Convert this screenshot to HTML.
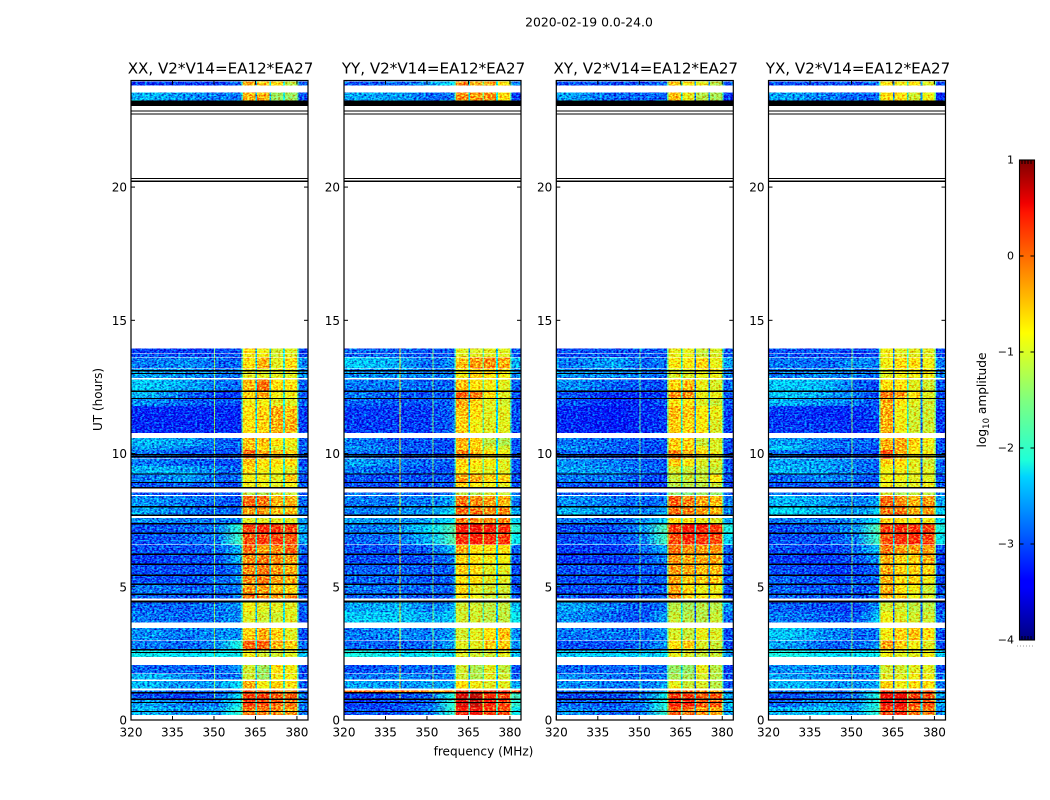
<!DOCTYPE html>
<html>
<head>
<meta charset="utf-8">
<title>2020-02-19 0.0-24.0</title>
<style>
html,body{margin:0;padding:0;background:#fff;width:1050px;height:800px;overflow:hidden}
svg{display:block}
text{font-family:"DejaVu Sans","Liberation Sans",sans-serif;fill:#000}
</style>
</head>
<body>
<svg id="figure" xmlns="http://www.w3.org/2000/svg" width="1050" height="800" viewBox="0 0 1050 800">
  <defs id="gradients">
    <filter id="speckle" color-interpolation-filters="sRGB" filterUnits="userSpaceOnUse" x="0" y="0" width="1050" height="800">
      <feTurbulence type="fractalNoise" baseFrequency="0.42 0.62" numOctaves="2" seed="7" result="raw"/>
      <feColorMatrix in="raw" type="matrix" values="0.5 0 0 0 0.25  0 1.9 0 0 -0.45  0 1.1 0 0 -0.05  0 0 0 0 1" result="noise"/>
      <feComposite in="SourceGraphic" in2="noise" operator="arithmetic" k1="0" k2="1" k3="1" k4="-0.5" result="mixed"/>
      <feComposite in="mixed" in2="SourceAlpha" operator="in"/>
    </filter>
    <linearGradient id="jet-gradient" x1="0" y1="1" x2="0" y2="0">
      <stop offset="0" stop-color="#00007f"/>
      <stop offset="0.11" stop-color="#0000ff"/>
      <stop offset="0.125" stop-color="#0000ff"/>
      <stop offset="0.34" stop-color="#00d4ff"/>
      <stop offset="0.375" stop-color="#1fffd8"/>
      <stop offset="0.5" stop-color="#7fff7f"/>
      <stop offset="0.64" stop-color="#ffff00"/>
      <stop offset="0.65" stop-color="#fff600"/>
      <stop offset="0.89" stop-color="#ff1500"/>
      <stop offset="0.91" stop-color="#f10000"/>
      <stop offset="1" stop-color="#7f0000"/>
    </linearGradient>
  </defs>

  <text x="589" y="26.5" text-anchor="middle" font-size="12.4">2020-02-19 0.0-24.0</text>
  <g id="panels"></g>
  <text x="0" y="0" text-anchor="middle" font-size="12" transform="translate(102,399.5) rotate(-90)">UT (hours)</text>
  <text x="483.5" y="755.5" text-anchor="middle" font-size="12.1">frequency (MHz)</text>

  <g>
    <rect x="1019.5" y="160" width="15" height="480" fill="url(#jet-gradient)"/>
    <g id="colorbar-ticks"></g>
    <rect x="1019.5" y="160" width="15" height="480" fill="none" stroke="#000" stroke-width="1.1"/>
    <line x1="1017" y1="646" x2="1035" y2="646" stroke="#999" stroke-width="1" stroke-dasharray="1 2"/>
    <text x="0" y="0" text-anchor="middle" font-size="12.2" transform="translate(986,400) rotate(-90)">log<tspan font-size="8.5" dy="3">10</tspan><tspan dy="-3"> amplitude</tspan></text>
  </g>
</svg>

<script>
// ---- shared axis values ----
const panelTitles = ["XX, V2*V14=EA12*EA27", "YY, V2*V14=EA12*EA27", "XY, V2*V14=EA12*EA27", "YX, V2*V14=EA12*EA27"];
const freqTicks = [320, 335, 350, 365, 380];
const timeTicks = [0, 5, 10, 15, 20];
const colorTicks = [1, 0, -1, -2, -3, -4];

// ---- time rows holding data (hours): everything else stays white (no data) ----
const rowTop = [23.96,23.55,13.95,13.74,13.61,13.18,12.77,12.34,12.08,11.78,11.29,10.59,10.28,10.13,9.79,9.53,9.26,8.93,8.53,8.40,8.03,7.58,7.39,7.01,6.56,6.24,5.85,5.46,5.10,4.73,4.41,4.05,3.45,2.98,2.66,2.06,1.73,1.47,1.11,1.05,0.79,0.49];
const rowBottom = [23.81,23.25,13.76,13.63,13.20,12.83,12.34,12.08,11.79,11.29,10.78,10.29,10.14,9.81,9.54,9.26,8.94,8.70,8.44,8.03,7.69,7.39,7.01,6.58,6.24,5.85,5.46,5.10,4.73,4.56,4.05,3.65,3.00,2.66,2.36,1.74,1.52,1.18,1.05,0.79,0.49,0.19];

// ---- flagged (black) scans, hours ----
const flagTop = [23.25,22.88,22.77,20.35,20.25,13.13,13.03,12.36,12.09,9.98,9.90,9.26,8.94,8.74,8.03,7.71,7.39,7.03,6.24,5.87,5.46,5.12,4.74,4.48,2.67,2.56,1.05,0.80,0.68,0.34];
const flagBottom = [23.04,22.84,22.74,20.30,20.20,13.09,13.00,12.33,12.07,9.94,9.87,9.23,8.92,8.70,7.99,7.65,7.36,7.00,6.22,5.84,5.43,5.09,4.72,4.41,2.60,2.52,1.01,0.77,0.65,0.31];

// ---- low-band sample frequencies (MHz), drawn as a smooth strip up to 360 MHz ----
const lowSampleFreqs = [327, 341, 351.5, 359];
// ---- bins above 360 MHz and which value feeds each bin ----
const freqEdges = [360,360.5,365,365.6,370,370.6,375,375.6,380,380.5,384];
const binSource = ["e0","c4","g0","c5","g1","c6","g2","c7","e1","c8"];

// ---- log10 amplitude per row: [~327, ~341, ~351, ~359, SPW1, SPW2, SPW3, SPW4, 380-384] ----
const valuesXX = [
[-3.1,-3.1,-3.1,-2.9,-0.5,-0.6,-0.7,-1.2,-2.9],
[-2.5,-2.7,-2.8,-2.8,-0.5,-0.5,-1.4,-1.4,-3.0],
[-3.1,-3.1,-3.1,-3.0,-0.8,-0.9,-1.1,-1.0,-3.0],
[-3.0,-3.0,-3.0,-3.0,-0.9,-0.9,-1.1,-1.0,-3.0],
[-2.8,-2.7,-2.9,-2.9,-0.8,-0.5,-1.0,-0.8,-2.7],
[-2.6,-2.7,-2.8,-2.8,-1.0,-1.0,-1.0,-1.0,-2.7],
[-2.4,-2.6,-2.8,-2.9,-0.6,-0.2,-0.8,-0.8,-2.9],
[-2.5,-2.9,-3.1,-3.1,-0.7,-0.5,-0.9,-0.9,-3.0],
[-2.7,-2.9,-3.0,-3.0,-0.9,-0.9,-1.0,-1.0,-2.9],
[-3.2,-3.2,-3.2,-3.2,-0.8,-0.7,-0.5,-0.6,-3.1],
[-3.2,-3.2,-3.2,-3.2,-0.8,-0.7,-0.5,-0.5,-3.1],
[-2.5,-2.6,-2.9,-2.9,-0.6,-0.6,-0.8,-0.9,-2.9],
[-2.6,-2.8,-2.9,-3.0,-0.6,-0.8,-1.0,-1.0,-2.9],
[-2.8,-3.0,-3.0,-3.0,-0.1,-0.5,-0.6,-0.7,-3.0],
[-2.8,-2.9,-3.0,-3.0,-0.6,-0.8,-0.8,-0.8,-3.0],
[-2.5,-2.6,-2.8,-2.9,-0.8,-0.9,-0.9,-1.0,-2.9],
[-2.8,-2.6,-2.9,-2.9,-0.9,-0.9,-1.0,-0.6,-3.0],
[-3.0,-2.9,-3.0,-3.0,-0.9,-0.9,-1.0,-0.9,-3.0],
[-3.0,-3.0,-3.0,-3.0,-1.2,-1.3,-1.1,-1.1,-3.0],
[-2.7,-2.8,-2.9,-3.0,-0.1,-0.2,-0.5,-0.5,-2.9],
[-2.6,-2.8,-2.9,-2.9,-0.4,-0.4,-0.6,-0.6,-2.8],
[-2.7,-2.8,-2.8,-2.8,-1.0,-1.0,-1.0,-1.0,-2.7],
[-3.0,-2.9,-2.8,-2.0,0.1,0.25,0.15,0.05,-2.6],
[-3.0,-2.9,-2.8,-1.9,0.0,0.1,0.1,0.0,-2.6],
[-3.0,-3.0,-2.9,-2.5,-0.1,-0.4,-0.3,-0.1,-2.9],
[-3.1,-3.0,-3.0,-2.5,-0.3,-0.2,-0.3,-0.4,-3.0],
[-3.0,-3.0,-3.0,-2.8,-0.3,-0.2,-0.4,-0.5,-3.0],
[-3.0,-3.0,-2.9,-2.7,-0.3,-0.2,-0.4,-0.5,-3.0],
[-2.8,-2.9,-2.9,-2.8,-0.4,-0.4,-0.6,-0.7,-3.0],
[-2.9,-3.0,-3.0,-2.8,-0.2,-0.3,-0.4,-0.3,-3.0],
[-2.9,-2.9,-2.8,-2.7,-0.9,-1.0,-1.0,-1.0,-2.9],
[-2.8,-2.9,-2.8,-2.7,-1.0,-1.1,-1.1,-1.0,-3.0],
[-2.7,-2.8,-2.7,-2.7,-0.7,-0.5,-0.7,-1.0,-3.0],
[-2.8,-2.9,-2.7,-2.1,-0.1,-0.1,-0.5,-0.7,-2.9],
[-2.2,-2.3,-2.2,-2.2,-0.9,-1.1,-1.1,-1.0,-2.4],
[-2.9,-2.9,-2.9,-2.7,-1.1,-1.4,-0.8,-0.9,-3.0],
[-2.5,-2.7,-2.9,-2.8,-1.1,-1.4,-0.9,-0.9,-3.0],
[-2.5,-2.7,-2.6,-2.3,-0.5,-0.9,-0.7,-0.8,-2.9],
[-2.8,-2.9,-2.9,-2.7,0.0,-0.1,-0.2,-0.3,-2.9],
[-3.0,-3.1,-2.9,-2.3,0.1,0.1,-0.1,-0.1,-2.8],
[-2.6,-2.8,-2.8,-2.2,0.1,0.0,-0.1,-0.2,-2.8],
[-2.5,-2.7,-2.6,-2.0,-0.2,-0.2,-0.3,-0.4,-2.8]
];
const valuesYY = [
[-3.0,-2.9,-2.6,-2.3,-0.2,-0.4,-0.4,-0.8,-2.8],
[-2.6,-2.6,-2.9,-2.8,-0.3,-0.4,-0.3,-0.8,-3.1],
[-2.9,-2.9,-3.0,-3.0,-1.0,-1.0,-1.0,-1.0,-3.0],
[-2.9,-2.9,-3.0,-3.0,-1.0,-1.0,-1.0,-1.0,-3.0],
[-2.4,-2.6,-2.9,-2.7,-0.6,-0.4,-0.3,-0.5,-2.5],
[-2.7,-2.7,-2.8,-2.8,-0.9,-0.7,-0.8,-0.9,-2.7],
[-2.8,-2.8,-2.9,-2.9,-0.6,-0.8,-0.9,-1.0,-2.9],
[-2.8,-3.0,-3.0,-3.0,-0.1,-0.2,-0.8,-1.0,-3.0],
[-2.9,-3.0,-3.0,-2.9,-0.4,-0.7,-1.0,-1.1,-3.0],
[-3.1,-3.1,-3.1,-2.9,-0.6,-0.8,-1.0,-1.0,-3.0],
[-3.1,-3.1,-3.1,-2.9,-0.7,-0.9,-1.0,-1.0,-3.0],
[-2.8,-3.0,-3.0,-3.0,-0.5,-0.7,-1.2,-1.3,-3.0],
[-2.7,-2.9,-3.0,-3.0,-0.6,-0.7,-1.0,-1.1,-3.0],
[-2.8,-3.0,-3.0,-3.0,-0.3,-0.5,-0.8,-0.9,-3.0],
[-2.6,-2.8,-2.9,-2.9,-0.7,-0.8,-0.9,-1.0,-3.0],
[-2.8,-2.9,-3.0,-3.0,-0.8,-0.9,-1.0,-1.0,-3.0],
[-3.0,-3.0,-3.0,-3.0,-0.4,-0.5,-0.7,-0.7,-3.0],
[-3.0,-3.0,-3.0,-3.0,-0.7,-0.8,-0.9,-1.0,-3.0],
[-2.8,-2.9,-3.0,-2.8,-1.2,-1.3,-1.1,-1.1,-2.8],
[-2.8,-2.8,-2.8,-2.6,-0.2,-0.3,-0.4,-0.5,-2.8],
[-2.8,-2.7,-2.7,-2.3,-0.1,-0.2,-0.3,-0.3,-2.6],
[-2.6,-2.7,-2.6,-2.3,-0.2,-0.3,-0.3,-0.3,-2.3],
[-2.8,-2.7,-2.3,-1.8,0.3,0.4,0.3,0.2,-2.0],
[-2.9,-2.8,-2.5,-1.8,0.2,0.3,0.2,0.1,-2.2],
[-3.0,-3.0,-2.9,-2.5,-0.5,-0.8,-0.8,-0.8,-2.9],
[-3.0,-3.0,-3.0,-2.8,-0.7,-0.8,-0.9,-0.9,-3.0],
[-2.9,-2.9,-3.0,-2.9,-0.7,-0.8,-1.0,-1.0,-3.0],
[-2.9,-2.9,-3.0,-2.9,-0.8,-0.8,-1.0,-1.0,-3.0],
[-2.8,-2.9,-2.9,-2.9,-0.7,-1.0,-1.1,-1.1,-3.0],
[-2.9,-2.9,-3.0,-2.9,-0.8,-0.9,-1.1,-1.1,-3.0],
[-2.6,-2.5,-2.8,-2.6,-1.1,-1.1,-1.2,-1.2,-2.4],
[-2.4,-2.4,-2.6,-2.4,-1.1,-1.1,-1.2,-1.2,-2.2],
[-2.8,-2.7,-2.8,-2.6,-1.1,-1.0,-0.8,-0.6,-2.7],
[-2.9,-2.9,-2.9,-2.6,-1.0,-1.0,-0.7,-0.7,-2.7],
[-2.1,-2.3,-2.2,-2.3,-1.0,-1.1,-1.1,-1.0,-2.5],
[-3.0,-2.9,-2.9,-2.8,-1.1,-1.3,-1.0,-1.2,-3.0],
[-2.8,-2.7,-2.8,-2.8,-1.1,-1.3,-1.0,-1.1,-2.9],
[-2.6,-2.7,-2.6,-2.6,-0.8,-0.9,-1.0,-1.0,-2.6],
[0.0,-0.1,-0.3,-0.2,0.2,0.2,0.2,0.2,0.1],
[-3.1,-3.0,-2.9,-2.1,0.5,0.6,0.2,0.1,-1.9],
[-3.1,-3.0,-2.9,-2.0,0.5,0.6,0.3,0.1,-2.0],
[-3.0,-3.0,-2.8,-2.0,0.3,0.4,0.1,0.0,-2.2]
];
const valuesXY = [
[-3.0,-3.0,-3.0,-2.9,-0.7,-0.9,-1.0,-1.3,-3.0],
[-2.6,-2.9,-2.9,-2.9,-0.6,-1.0,-1.3,-1.4,-3.1],
[-3.0,-3.0,-3.0,-3.0,-1.0,-1.0,-1.2,-1.1,-3.0],
[-3.0,-3.0,-3.0,-3.0,-1.0,-1.0,-1.2,-1.1,-3.0],
[-2.8,-2.6,-2.9,-2.8,-0.9,-0.9,-0.8,-1.0,-2.6],
[-2.7,-2.7,-2.8,-2.9,-1.1,-1.1,-1.0,-1.0,-2.8],
[-2.7,-2.9,-3.0,-3.0,-0.8,-0.6,-1.0,-1.1,-2.9],
[-3.0,-3.2,-3.2,-3.1,-0.4,-0.4,-1.0,-1.0,-3.0],
[-3.0,-3.2,-3.2,-3.0,-0.9,-0.9,-1.1,-1.2,-3.0],
[-3.2,-3.3,-3.2,-3.1,-0.6,-0.7,-0.9,-1.0,-3.1],
[-3.2,-3.3,-3.2,-3.1,-0.7,-0.8,-0.9,-1.1,-3.1],
[-2.8,-2.9,-3.0,-3.0,-0.7,-0.8,-1.2,-1.1,-3.0],
[-2.7,-2.9,-3.0,-3.0,-0.8,-0.8,-1.0,-1.1,-3.0],
[-2.9,-3.0,-3.0,-3.0,-0.3,-0.5,-0.8,-1.0,-3.0],
[-2.7,-2.8,-2.9,-3.0,-0.7,-0.9,-1.1,-1.1,-3.0],
[-2.6,-2.7,-2.9,-2.9,-1.1,-1.2,-1.2,-1.2,-3.0],
[-2.8,-2.8,-3.0,-3.1,-1.2,-1.2,-1.2,-0.9,-3.0],
[-3.0,-3.0,-3.1,-3.1,-1.3,-1.3,-1.3,-1.2,-3.0],
[-2.9,-3.0,-3.0,-3.0,-1.5,-1.6,-1.5,-1.5,-2.9],
[-2.7,-2.8,-2.9,-2.8,-0.1,-0.3,-0.5,-0.6,-2.8],
[-2.5,-2.7,-2.8,-2.6,-0.2,-0.3,-0.5,-0.6,-2.7],
[-2.8,-2.9,-2.7,-2.4,-0.8,-0.9,-1.0,-1.1,-2.6],
[-3.0,-3.0,-2.7,-1.8,0.1,0.3,0.2,0.1,-2.1],
[-3.0,-3.0,-2.8,-1.9,0.0,0.2,0.1,0.0,-2.3],
[-3.1,-3.1,-2.9,-2.6,-0.2,-0.4,-0.4,-0.4,-2.9],
[-3.1,-3.1,-3.0,-2.8,-0.4,-0.5,-0.5,-0.5,-3.0],
[-3.0,-3.0,-3.0,-2.9,-0.4,-0.5,-0.6,-0.6,-3.0],
[-3.0,-3.0,-3.0,-2.9,-0.5,-0.7,-0.7,-0.7,-3.0],
[-3.0,-3.0,-3.0,-2.9,-0.5,-0.8,-1.0,-1.0,-3.0],
[-3.0,-3.1,-3.0,-2.9,-0.3,-0.8,-0.9,-0.9,-3.0],
[-2.6,-2.8,-3.0,-2.8,-1.3,-1.4,-1.3,-1.3,-2.7],
[-2.7,-2.9,-3.0,-2.6,-1.2,-1.3,-1.3,-1.2,-2.9],
[-2.8,-2.8,-2.9,-2.7,-1.1,-1.2,-1.0,-1.1,-3.0],
[-3.0,-3.0,-2.9,-2.7,-0.8,-0.7,-1.1,-1.2,-3.0],
[-2.4,-2.4,-2.4,-2.3,-1.0,-1.1,-1.2,-1.2,-2.6],
[-2.9,-2.9,-2.9,-2.8,-1.5,-1.5,-1.0,-1.3,-3.1],
[-2.7,-2.8,-2.9,-2.8,-1.4,-1.4,-1.1,-1.3,-3.0],
[-2.7,-2.8,-2.8,-2.6,-1.0,-1.2,-1.1,-1.3,-3.0],
[-2.9,-3.0,-2.9,-2.4,-0.2,-0.3,-0.4,-0.5,-2.8],
[-3.0,-3.0,-2.9,-2.2,0.1,0.1,-0.1,-0.1,-2.6],
[-2.9,-2.9,-2.8,-2.1,0.2,0.2,-0.1,-0.1,-2.5],
[-2.7,-2.9,-2.8,-2.0,-0.1,-0.2,-0.4,-0.5,-2.6]
];
const valuesYX = [
[-3.0,-3.0,-3.0,-2.9,-0.9,-1.0,-0.9,-1.1,-3.1],
[-2.6,-2.8,-2.9,-2.9,-0.9,-0.9,-1.2,-1.0,-3.2],
[-3.0,-3.0,-3.1,-3.0,-1.0,-1.1,-1.1,-1.1,-3.1],
[-3.0,-3.0,-3.1,-3.0,-1.0,-1.1,-1.1,-1.1,-3.1],
[-2.8,-2.9,-2.7,-2.8,-1.0,-0.9,-0.9,-1.0,-2.8],
[-2.8,-2.7,-2.8,-2.9,-1.1,-1.0,-1.0,-1.0,-2.8],
[-2.4,-2.5,-2.9,-3.0,-0.9,-0.9,-1.1,-1.2,-3.0],
[-2.4,-2.6,-2.8,-3.0,-0.3,-0.5,-0.9,-1.1,-3.0],
[-2.5,-2.7,-2.8,-3.0,-0.6,-0.9,-1.1,-1.2,-3.0],
[-3.1,-3.2,-3.2,-3.0,-0.6,-1.0,-1.2,-1.2,-3.1],
[-3.1,-3.1,-3.2,-3.1,-0.6,-1.0,-1.2,-1.2,-3.1],
[-2.6,-2.8,-2.9,-2.9,-0.6,-0.6,-0.8,-1.0,-3.0],
[-2.4,-2.8,-2.9,-3.0,-0.6,-0.6,-0.9,-1.1,-3.0],
[-2.8,-3.0,-3.0,-3.0,-0.1,-0.6,-0.9,-1.0,-3.0],
[-2.6,-2.6,-2.8,-2.9,-0.8,-0.9,-1.1,-1.2,-2.9],
[-2.5,-2.6,-2.8,-2.9,-1.0,-1.0,-1.1,-1.1,-2.9],
[-2.9,-2.7,-2.9,-3.0,-1.0,-1.0,-1.1,-1.1,-3.0],
[-3.0,-3.0,-3.0,-3.0,-1.0,-1.1,-1.1,-1.0,-3.0],
[-2.8,-2.9,-3.0,-3.0,-1.2,-1.4,-1.3,-1.3,-2.8],
[-2.5,-2.6,-2.8,-2.6,-0.2,-0.4,-0.6,-0.5,-2.6],
[-2.3,-2.5,-2.7,-2.4,-0.3,-0.3,-0.6,-0.5,-2.4],
[-2.8,-2.8,-2.7,-2.3,-0.8,-0.9,-0.9,-1.0,-2.3],
[-3.0,-2.9,-2.7,-1.8,0.0,0.1,0.1,0.0,-2.1],
[-3.0,-3.0,-2.8,-1.9,-0.1,0.1,0.1,0.0,-2.2],
[-3.0,-3.1,-2.9,-2.5,-0.3,-0.5,-0.5,-0.5,-3.0],
[-3.1,-3.1,-3.0,-2.7,-0.6,-0.8,-0.8,-0.6,-3.1],
[-3.0,-3.1,-3.1,-2.9,-0.6,-0.8,-0.8,-0.8,-3.0],
[-2.9,-3.0,-3.0,-2.9,-0.6,-0.9,-0.8,-1.0,-3.0],
[-2.9,-3.0,-3.0,-2.9,-0.6,-0.9,-1.0,-1.2,-3.0],
[-2.9,-3.0,-3.0,-2.9,-0.7,-0.8,-1.0,-1.1,-3.0],
[-2.9,-3.0,-3.1,-2.7,-1.2,-1.2,-1.3,-1.3,-3.0],
[-2.8,-2.9,-3.0,-2.5,-1.0,-1.1,-1.2,-1.2,-2.9],
[-2.4,-2.7,-2.9,-2.8,-1.0,-0.8,-0.7,-0.9,-3.0],
[-2.6,-2.9,-2.9,-2.7,-0.5,-0.8,-1.0,-1.1,-3.0],
[-2.1,-2.3,-2.3,-2.2,-1.0,-1.1,-1.1,-1.0,-2.4],
[-2.7,-2.7,-2.8,-2.7,-1.2,-1.2,-1.1,-1.1,-3.0],
[-2.6,-2.7,-2.8,-2.7,-1.1,-1.1,-1.0,-1.0,-2.9],
[-2.5,-2.6,-2.7,-2.6,-0.8,-1.0,-0.9,-0.9,-2.8],
[-2.8,-2.8,-2.8,-2.4,0.0,-0.1,-0.1,-0.2,-2.7],
[-3.0,-2.9,-2.9,-2.1,0.3,0.3,0.0,-0.1,-2.6],
[-2.9,-2.6,-2.7,-2.1,0.3,0.3,-0.1,-0.1,-2.6],
[-2.5,-2.4,-2.6,-2.0,0.0,0.1,-0.3,-0.3,-2.7]
];
const panelValues = [valuesXX, valuesYY, valuesXY, valuesYX];

// ---- per-panel calibration added to the four spectral windows (log10) ----
const bandCalibration = [0.1, 0.1, 0.15, 0.2];

// ---- levels in gaps between spectral windows and at the band edges ----
const gapLevels = [[-2.4,-2.4,-2.0],[-2.4,-1.6,-2.3],[-2.0,-2.7,-2.7],[-2.7,-1.8,-2.7]];
const edgeLevels = [[-1.7,-1.7],[-1.8,-1.8],[-1.6,-1.7],[-1.7,-1.6]];

// ---- narrow RFI channels per panel: frequency, level ----
const rfiFreqs = [[350],[340,352],[350],[350]];
const rfiLevels = [[-1.4],[-0.9,-1.5],[-1.7],[-1.5]];

const NS = "http://www.w3.org/2000/svg";
const panelsRoot = document.getElementById("panels");
const gradientDefs = document.getElementById("gradients");
const panelLeftEdge = [131, 344, 556.3, 768.5];
const panelWidth = 177, axisTop = 80.5, axisBottom = 720;
const freqMin = 320, freqMax = 384, timeMin = 0, timeMax = 24;

function xScale(p, f) { return panelLeftEdge[p] + (f - freqMin) / (freqMax - freqMin) * panelWidth; }
function yScale(h) { return axisBottom - (h - timeMin) / (timeMax - timeMin) * (axisBottom - axisTop); }

function jet(v) {
  const t = Math.max(0, Math.min(1, (v + 4) / 5));
  const seg = (pts) => {
    for (let i = 1; i < pts.length; i++) {
      if (t <= pts[i][0]) {
        const a = pts[i - 1], b = pts[i];
        return a[1] + (b[1] - a[1]) * (t - a[0]) / (b[0] - a[0]);
      }
    }
    return pts[pts.length - 1][1];
  };
  const r = seg([[0, 0], [0.35, 0], [0.66, 1], [0.89, 1], [1, 0.5]]);
  const g = seg([[0, 0], [0.125, 0], [0.375, 1], [0.64, 1], [0.91, 0], [1, 0]]);
  const b = seg([[0, 0.5], [0.11, 1], [0.34, 1], [0.65, 0], [1, 0]]);
  return "rgb(" + Math.round(r * 255) + "," + Math.round(g * 255) + "," + Math.round(b * 255) + ")";
}

function make(tag, attrs, parent) {
  const el = document.createElementNS(NS, tag);
  for (const k in attrs) el.setAttribute(k, attrs[k]);
  parent.appendChild(el);
  return el;
}

function binValue(p, row, src) {
  const kind = src[0], idx = Number(src.slice(1));
  if (kind === "c") return idx >= 4 && idx <= 7 ? row[idx] + bandCalibration[p] : row[idx];
  const bandMean = (row[4] + row[5] + row[6] + row[7]) / 4;
  if (kind === "g") return gapLevels[p][idx] + 0.45 * (bandMean + 0.8);
  return edgeLevels[p][idx] + 0.35 * (bandMean + 0.8);
}

panelTitles.forEach(function (title, p) {
  const panel = make("g", {}, panelsRoot);
  
  

  const cells = make("g", { filter: "url(#speckle)", "shape-rendering": "crispEdges" }, panel);
  
  

  panelValues[p].forEach(function (row, r) {
    const y0 = yScale(rowTop[r]), y1 = yScale(rowBottom[r]);

    const gradId = "low-" + p + "-" + r;
    const grad = make("linearGradient", { id: gradId, x1: 0, y1: 0, x2: 1, y2: 0 }, gradientDefs);
    lowSampleFreqs.forEach(function (f, k) {
      make("stop", { offset: (f - freqMin) / (360 - freqMin), "stop-color": jet(row[k]) }, grad);
    });
    const lowStrip = make("rect", { x: xScale(p, freqMin), y: y0, width: xScale(p, 360) - xScale(p, freqMin) + 0.2, height: y1 - y0, fill: "url(#" + gradId + ")" }, cells);
    
    

    binSource.forEach(function (src, b) {
      const x0 = xScale(p, freqEdges[b]), x1 = xScale(p, freqEdges[b + 1]);
      const cell = make("rect", { x: x0, y: y0, width: x1 - x0 + 0.2, height: y1 - y0, fill: jet(binValue(p, row, src)) }, cells);
      
      
    });
    rfiFreqs[p].forEach(function (f, k) {
      if (rowTop[r] > 14 || rowBottom[r] < 0.5) return;
      const line = make("rect", { x: xScale(p, f), y: y0, width: 1, height: y1 - y0, fill: jet(rfiLevels[p][k]) }, cells);
      
      
    });
  });

  flagTop.forEach(function (top, i) {
    const y0 = yScale(top), y1 = yScale(flagBottom[i]);
    const flag = make("rect", { x: xScale(p, freqMin), y: y0, width: panelWidth, height: Math.max(1.3, y1 - y0), fill: "#000", "shape-rendering": "crispEdges" }, panel);
    
    
  });

  const frame = make("rect", { x: panelLeftEdge[p], y: axisTop, width: panelWidth, height: axisBottom - axisTop, fill: "none", stroke: "#000", "stroke-width": 1.2 }, panel);
  
  

  freqTicks.forEach(function (f) {
    const x = xScale(p, f);
    [[axisBottom, axisBottom - 4], [axisTop, axisTop + 4]].forEach(function (pair) {
      const tick = make("line", { x1: x, x2: x, y1: pair[0], y2: pair[1], stroke: "#000", "stroke-width": 1 }, panel);
      
      
    });
    const label = make("text", { x: x, y: 736.5, "text-anchor": "middle", "font-size": 12 }, panel);
    
    
    label.textContent = String(f);
  });

  timeTicks.forEach(function (h) {
    const y = yScale(h);
    const left = panelLeftEdge[p], right = left + panelWidth;
    [[left, left + 4], [right, right - 4]].forEach(function (pair) {
      const tick = make("line", { x1: pair[0], x2: pair[1], y1: y, y2: y, stroke: "#000", "stroke-width": 1 }, panel);
      
      
    });
    const label = make("text", { x: left - 4, y: y + 4.5, "text-anchor": "end", "font-size": 12 }, panel);
    
    
    label.textContent = String(h);
  });

  const heading = make("text", { x: panelLeftEdge[p] + panelWidth / 2 + 1, y: 73.5, "text-anchor": "middle", "font-size": 15.1 }, panel);
  
  
  heading.textContent = title;
});

// colorbar ticks
const cbRoot = document.getElementById("colorbar-ticks");
function cbScale(v) { return 640 - (v + 4) / 5 * 480; }
colorTicks.forEach(function (v) {
  const y = cbScale(v);
  [[1019.5, 1023.5], [1034.5, 1030.5]].forEach(function (pair) {
    const tick = make("line", { x1: pair[0], x2: pair[1], y1: y, y2: y, stroke: "#000", "stroke-width": 1 }, cbRoot);
    
    
  });
  const label = make("text", { x: 1014, y: y + 3.5, "text-anchor": "end", "font-size": 11 }, cbRoot);
  
  
  label.textContent = (v < 0 ? "\u2212" + Math.abs(v) : String(v));
});
const cbMinorTicks = [1022, 1025, 1028, 1031];
cbMinorTicks.forEach(function (x) {
  [[160, 164], [640, 636]].forEach(function (pair) {
    const tick = make("line", { x1: x, x2: x, y1: pair[0], y2: pair[1], stroke: "#000", "stroke-width": 1 }, cbRoot);
    
    
  });
});
</script>
</body>
</html>
